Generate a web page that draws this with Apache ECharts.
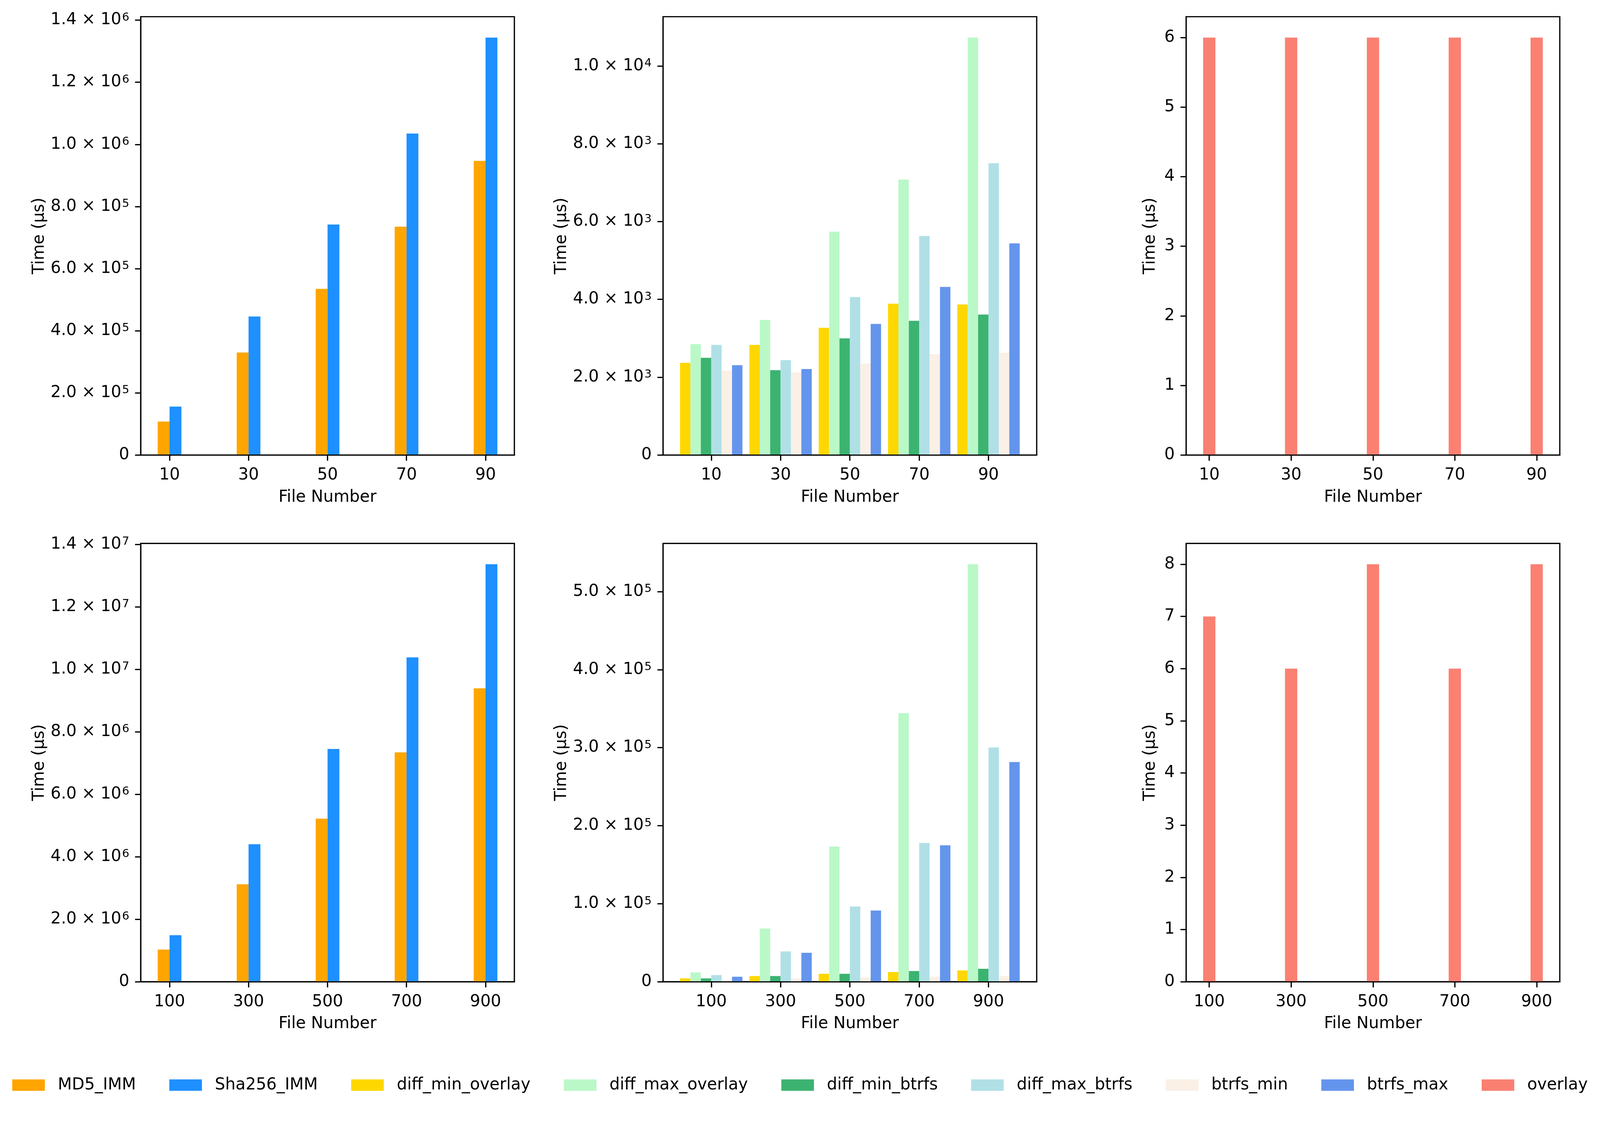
<!DOCTYPE html>
<html>
<head>
<meta charset="utf-8">
<title>File Number timings</title>
<script src="https://cdn.jsdelivr.net/npm/echarts@6/dist/echarts.min.js"></script>
<style>
  html, body { margin: 0; padding: 0; background: #fff; overflow: hidden; }
  #main { width: 100vw; height: 100vh; }
</style>
</head>
<body>
<div id="main"></div>
<script>
// x categories (file counts)
const filesTop = [10, 30, 50, 70, 90];
const filesBottom = [100, 300, 500, 700, 900];

// hashing, time in µs
const md5Top = [108000, 330000, 535000, 735000, 947000];
const sha256Top = [156000, 446000, 742000, 1035000, 1344000];
const md5Bottom = [1030000, 3120000, 5220000, 7340000, 9390000];
const sha256Bottom = [1490000, 4400000, 7450000, 10380000, 13360000];

// diff / btrfs, time in µs
const diffMinOverlayTop = [2370, 2830, 3270, 3890, 3870];
const diffMaxOverlayTop = [2850, 3470, 5740, 7080, 10730];
const diffMinBtrfsTop = [2500, 2180, 3000, 3450, 3610];
const diffMaxBtrfsTop = [2830, 2440, 4060, 5630, 7500];
const btrfsMinTop = [2170, 2120, 2350, 2590, 2630];
const btrfsMaxTop = [2310, 2210, 3370, 4320, 5440];

const diffMinOverlayBottom = [4300, 7300, 10200, 12400, 14500];
const diffMaxOverlayBottom = [11900, 68300, 173200, 344300, 535100];
const diffMinBtrfsBottom = [4300, 7300, 10200, 13700, 16600];
const diffMaxBtrfsBottom = [8500, 38800, 96400, 177900, 300300];
const btrfsMinBottom = [2100, 3800, 5500, 6400, 7300];
const btrfsMaxBottom = [6400, 37100, 91300, 174900, 281600];

// overlay, time in µs
const overlayTop = [6, 6, 6, 6, 6];
const overlayBottom = [7, 6, 8, 6, 8];

// y tick values
const yTicksTL = [0, 2e5, 4e5, 6e5, 8e5, 1e6, 1.2e6, 1.4e6];
const yTicksTM = [0, 2e3, 4e3, 6e3, 8e3, 1e4];
const yTicksTR = [0, 1, 2, 3, 4, 5, 6];
const yTicksBL = [0, 2e6, 4e6, 6e6, 8e6, 1e7, 1.2e7, 1.4e7];
const yTicksBM = [0, 1e5, 2e5, 3e5, 4e5, 5e5];
const yTicksBR = [0, 1, 2, 3, 4, 5, 6, 7, 8];

const legendNames = ['MD5_IMM', 'Sha256_IMM', 'diff_min_overlay', 'diff_max_overlay',
  'diff_min_btrfs', 'diff_max_btrfs', 'btrfs_min', 'btrfs_max', 'overlay'];

const COLORS = {
  MD5_IMM: '#FFA500',
  Sha256_IMM: '#1E90FF',
  diff_min_overlay: '#FFD700',
  diff_max_overlay: '#BAF8C8',
  diff_min_btrfs: '#3CB371',
  diff_max_btrfs: '#B0E0E6',
  btrfs_min: '#FAF0E6',
  btrfs_max: '#6495ED',
  overlay: '#FA8072'
};

const panels = [
  { files: filesTop, w: 3, ticks: yTicksTL, sci: true, nameGap: 245,
    series: [['MD5_IMM', md5Top], ['Sha256_IMM', sha256Top]] },
  { files: filesTop, w: 3, ticks: yTicksTM, sci: true, nameGap: 245,
    series: [['diff_min_overlay', diffMinOverlayTop], ['diff_max_overlay', diffMaxOverlayTop],
      ['diff_min_btrfs', diffMinBtrfsTop], ['diff_max_btrfs', diffMaxBtrfsTop],
      ['btrfs_min', btrfsMinTop], ['btrfs_max', btrfsMaxTop]] },
  { files: filesTop, w: 3, ticks: yTicksTR, sci: false, nameGap: 72,
    series: [['overlay', overlayTop]] },
  { files: filesBottom, w: 30, ticks: yTicksBL, sci: true, nameGap: 245,
    series: [['MD5_IMM', md5Bottom], ['Sha256_IMM', sha256Bottom]] },
  { files: filesBottom, w: 30, ticks: yTicksBM, sci: true, nameGap: 245,
    series: [['diff_min_overlay', diffMinOverlayBottom], ['diff_max_overlay', diffMaxOverlayBottom],
      ['diff_min_btrfs', diffMinBtrfsBottom], ['diff_max_btrfs', diffMaxBtrfsBottom],
      ['btrfs_min', btrfsMinBottom], ['btrfs_max', btrfsMaxBottom]] },
  { files: filesBottom, w: 30, ticks: yTicksBR, sci: false, nameGap: 72,
    series: [['overlay', overlayBottom]] }
];

const chart = echarts.init(document.getElementById('main'), null, { renderer: 'canvas' });

// layout is designed on a 4218 x 2922 page, scaled to whatever the viewport is
const S = Math.min(chart.getWidth() / 4218, chart.getHeight() / 2922);
const px = v => v * S;

const FONT = 'DejaVu Sans';
const FS = px(43);
const LW = px(3.3);
const LEFTS = [371, 1748, 3127];
const TOPS = [44, 1433];
const PW = 985, PH = 1156;

function sciLabel(v) {
  if (v === 0) return '{m|0}';
  const e = Math.floor(Math.round(Math.log10(v) * 1e6) / 1e6);
  const m = v / Math.pow(10, e);
  return '{m|' + m.toFixed(1) + ' \u00d7 10}{e|' + e + '}';
}

function makeBar(offset, w) {
  return function (params, api) {
    const x = api.value(0) + offset;
    const a = api.coord([x - w / 2, api.value(1)]);
    const b = api.coord([x + w / 2, 0]);
    return {
      type: 'rect',
      shape: { x: a[0], y: a[1], width: b[0] - a[0], height: b[1] - a[1] },
      style: { fill: api.visual('color') }
    };
  };
}

const grid = [], xAxis = [], yAxis = [], series = [];

panels.forEach((p, i) => {
  const col = i % 3, row = Math.floor(i / 3);
  grid.push({
    left: px(LEFTS[col]), top: px(TOPS[row]), width: px(PW), height: px(PH),
    show: true, borderColor: '#000', borderWidth: LW, backgroundColor: 'transparent'
  });

  const n = p.series.length;
  const half = n * p.w / 2;
  const lo = p.files[0] - half;
  const hi = p.files[p.files.length - 1] + half;
  const pad = (hi - lo) * 0.05;
  xAxis.push({
    type: 'value', gridIndex: i, min: lo - pad, max: hi + pad, z: 5,
    name: 'File Number', nameLocation: 'middle', nameGap: px(90),
    nameTextStyle: { fontFamily: FONT, fontSize: FS, color: '#000' },
    axisLine: { show: true, onZero: false, lineStyle: { color: '#000', width: LW } },
    axisTick: { show: true, customValues: p.files, length: px(15), lineStyle: { color: '#000', width: LW } },
    axisLabel: { customValues: p.files, margin: px(32), fontFamily: FONT, fontSize: FS, color: '#000' },
    splitLine: { show: false }
  });

  let top = 0;
  p.series.forEach(s => { top = Math.max(top, ...s[1]); });
  yAxis.push({
    type: 'value', gridIndex: i, min: 0, max: top * 1.05, z: 5,
    name: 'Time (\u00b5s)', nameLocation: 'middle', nameGap: px(p.nameGap),
    nameTextStyle: { fontFamily: FONT, fontSize: FS, color: '#000' },
    axisLine: { show: true, onZero: false, lineStyle: { color: '#000', width: LW } },
    axisTick: { show: true, customValues: p.ticks, length: px(15), lineStyle: { color: '#000', width: LW } },
    axisLabel: {
      customValues: p.ticks, margin: px(30), fontFamily: FONT, fontSize: FS, color: '#000',
      formatter: p.sci ? sciLabel : (v => '{m|' + v + '}'),
      rich: {
        m: { fontFamily: FONT, fontSize: FS, lineHeight: px(43), color: '#000', verticalAlign: 'bottom' },
        e: { fontFamily: FONT, fontSize: px(30), lineHeight: px(30), color: '#000', verticalAlign: 'top',
             padding: [0, 0, px(21), px(2)] }
      }
    },
    splitLine: { show: false }
  });

  p.series.forEach(([name, vals], k) => {
    series.push({
      type: 'custom', name: name, xAxisIndex: i, yAxisIndex: i,
      itemStyle: { color: COLORS[name] },
      encode: { x: 0, y: 1 },
      renderItem: makeBar((k - (n - 1) / 2) * p.w, p.w),
      data: p.files.map((f, j) => [f, vals[j]])
    });
  });
});

chart.setOption({
  animation: false,
  backgroundColor: '#fff',
  legend: {
    data: legendNames, left: 'center', top: px(2840), padding: 0,
    icon: 'rect', itemWidth: px(86), itemHeight: px(30), itemGap: px(88),
    selectedMode: false,
    textStyle: { fontFamily: FONT, fontSize: FS, color: '#000', padding: [0, 0, 0, px(29)] }
  },
  grid: grid,
  xAxis: xAxis,
  yAxis: yAxis,
  series: series
});
</script>
</body>
</html>
